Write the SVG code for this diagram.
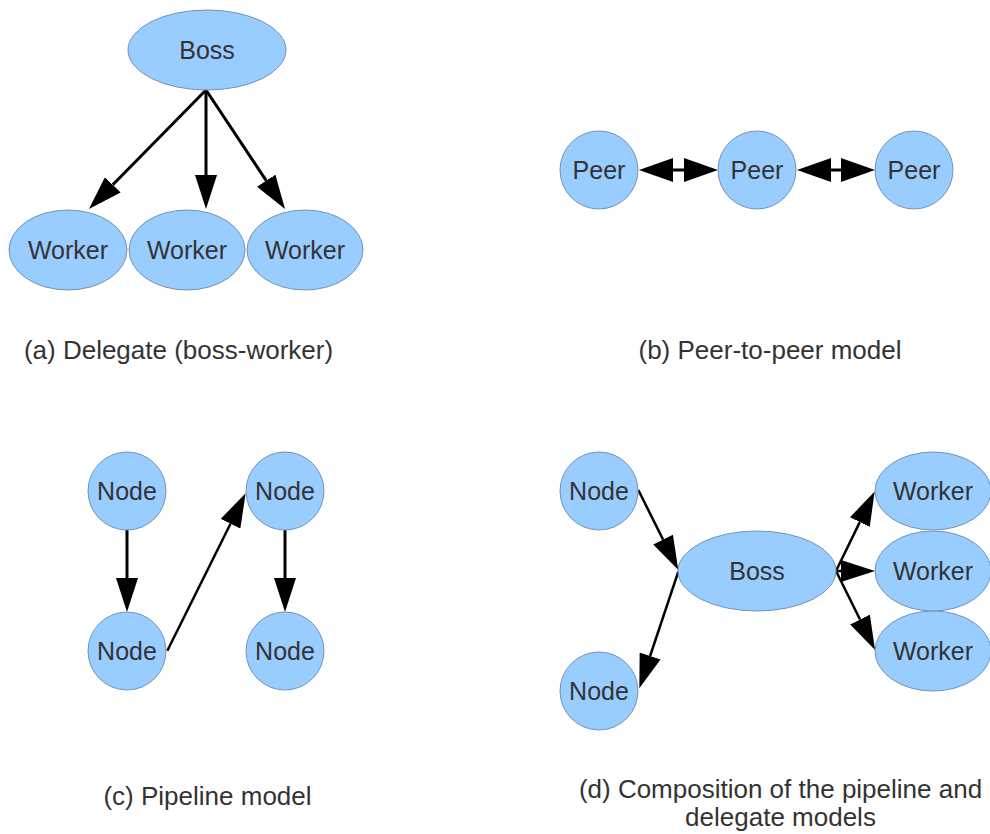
<svg xmlns="http://www.w3.org/2000/svg" width="990" height="834" viewBox="0 0 990 834">
  <style>
    .node { fill: #99ccff; stroke: #7393b5; stroke-width: 1; }
    .lbl { font-family: "Liberation Sans", Arial, sans-serif; font-size: 25px; fill: #333333; text-anchor: middle; }
    .cap { font-family: "Liberation Sans", Arial, sans-serif; font-size: 26px; fill: #333333; text-anchor: middle; }
    .edge { stroke: #000000; stroke-width: 3; fill: none; }
    .thin { stroke-width: 2.5; }
  </style>
  <defs>
    <!-- arrowhead starts at the line end and extends 34px forward -->
    <marker id="head" viewBox="0 0 34 22" refX="0" refY="11" markerWidth="34" markerHeight="22" markerUnits="userSpaceOnUse" orient="auto">
      <path d="M0,0 L34,11 L0,22 Z" fill="#000000"/>
    </marker>
    <marker id="tail" viewBox="0 0 34 24" refX="34" refY="12" markerWidth="34" markerHeight="24" markerUnits="userSpaceOnUse" orient="auto">
      <path d="M34,0 L0,12 L34,24 Z" fill="#000000"/>
    </marker>
    <marker id="head2" viewBox="0 0 34 24" refX="0" refY="12" markerWidth="34" markerHeight="24" markerUnits="userSpaceOnUse" orient="auto">
      <path d="M0,0 L34,12 L0,24 Z" fill="#000000"/>
    </marker>
  </defs>

  <!-- connectors -->
  <g id="connectors">
    <!-- (a) boss to workers -->
    <line class="edge" x1="206" y1="90" x2="112.8" y2="184.8" marker-end="url(#head)"/>
    <line class="edge" x1="206" y1="90" x2="206" y2="175" marker-end="url(#head)"/>
    <line class="edge" x1="206" y1="90" x2="266.2" y2="180.7" marker-end="url(#head)"/>
    <!-- (b) peer links, both directions -->
    <line class="edge" x1="673" y1="170" x2="684" y2="170" marker-start="url(#tail)" marker-end="url(#head2)"/>
    <line class="edge" x1="831" y1="170" x2="841" y2="170" marker-start="url(#tail)" marker-end="url(#head2)"/>
    <!-- (c) pipeline -->
    <line class="edge" x1="127" y1="530" x2="127" y2="578" marker-end="url(#head)"/>
    <line class="edge thin" x1="167.3" y1="650.7" x2="230.5" y2="523.7" marker-end="url(#head)"/>
    <line class="edge" x1="285" y1="530" x2="285" y2="578" marker-end="url(#head)"/>
    <!-- (d) composition -->
    <line class="edge thin" x1="638.3" y1="490" x2="663.1" y2="539.6" marker-end="url(#head)"/>
    <line class="edge thin" x1="678.3" y1="571.7" x2="650.1" y2="656" marker-end="url(#head)"/>
    <line class="edge thin" x1="836" y1="571" x2="859.8" y2="522.1" marker-end="url(#head)"/>
    <line class="edge thin" x1="836" y1="571" x2="841" y2="571" marker-end="url(#head)"/>
    <line class="edge thin" x1="836" y1="571" x2="860" y2="619.5" marker-end="url(#head)"/>
  </g>

  <!-- (a) delegate -->
  <g id="a-boss"><ellipse class="node" cx="207" cy="50" rx="79" ry="40"/><text class="lbl" x="207" y="59">Boss</text></g>
  <g id="a-worker1"><ellipse class="node" cx="68" cy="250" rx="59" ry="40"/><text class="lbl" x="68" y="259">Worker</text></g>
  <g id="a-worker2"><ellipse class="node" cx="187" cy="250" rx="58" ry="40"/><text class="lbl" x="187" y="259">Worker</text></g>
  <g id="a-worker3"><ellipse class="node" cx="305" cy="250" rx="58" ry="40"/><text class="lbl" x="305" y="259">Worker</text></g>

  <!-- (b) peer-to-peer -->
  <g id="b-peer1"><circle class="node" cx="599" cy="170" r="39"/><text class="lbl" x="599" y="179">Peer</text></g>
  <g id="b-peer2"><circle class="node" cx="757" cy="170" r="39"/><text class="lbl" x="757" y="179">Peer</text></g>
  <g id="b-peer3"><circle class="node" cx="914" cy="170" r="39"/><text class="lbl" x="914" y="179">Peer</text></g>

  <!-- (c) pipeline -->
  <g id="c-node1"><circle class="node" cx="127" cy="491" r="39"/><text class="lbl" x="127" y="500">Node</text></g>
  <g id="c-node2"><circle class="node" cx="127" cy="651" r="39"/><text class="lbl" x="127" y="660">Node</text></g>
  <g id="c-node3"><circle class="node" cx="285" cy="491" r="39"/><text class="lbl" x="285" y="500">Node</text></g>
  <g id="c-node4"><circle class="node" cx="285" cy="651" r="39"/><text class="lbl" x="285" y="660">Node</text></g>

  <!-- (d) composition -->
  <g id="d-node1"><circle class="node" cx="599" cy="491" r="39"/><text class="lbl" x="599" y="500">Node</text></g>
  <g id="d-node2"><circle class="node" cx="599" cy="691" r="39"/><text class="lbl" x="599" y="700">Node</text></g>
  <g id="d-boss"><ellipse class="node" cx="757" cy="571" rx="79" ry="40"/><text class="lbl" x="757" y="580">Boss</text></g>
  <g id="d-worker1"><ellipse class="node" cx="933" cy="491" rx="58" ry="39"/><text class="lbl" x="933" y="500">Worker</text></g>
  <g id="d-worker2"><ellipse class="node" cx="933" cy="571" rx="58" ry="40"/><text class="lbl" x="933" y="580">Worker</text></g>
  <g id="d-worker3"><ellipse class="node" cx="933" cy="651" rx="58" ry="40"/><text class="lbl" x="933" y="660">Worker</text></g>

  <!-- captions -->
  <g id="captions">
    <text class="cap" x="178.5" y="359">(a) Delegate (boss-worker)</text>
    <text class="cap" x="770" y="359">(b) Peer-to-peer model</text>
    <text class="cap" x="207.5" y="805">(c) Pipeline model</text>
    <text class="cap" x="780.5" y="798">(d) Composition of the pipeline and</text>
    <text class="cap" x="780.5" y="826">delegate models</text>
  </g>
</svg>
